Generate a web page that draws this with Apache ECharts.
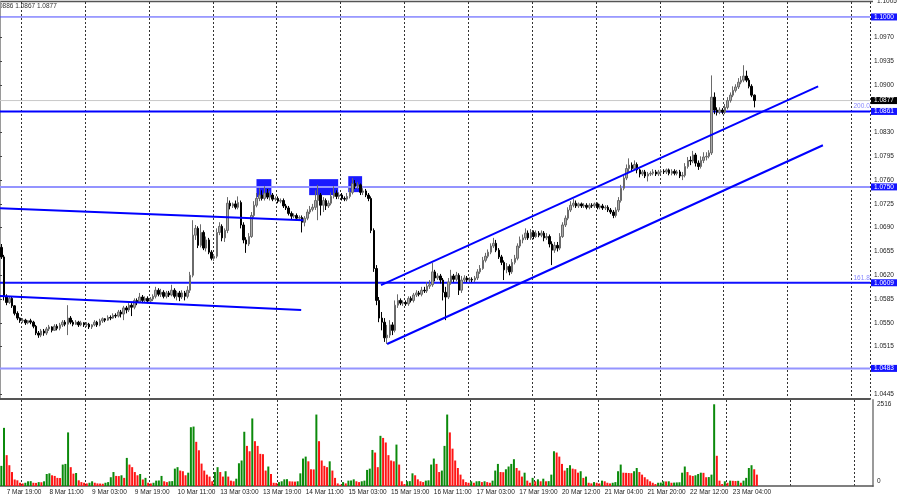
<!DOCTYPE html>
<html><head><meta charset="utf-8">
<script src="https://cdn.jsdelivr.net/npm/echarts@6.0.0/dist/echarts.min.js"></script>
<style>html,body{margin:0;padding:0;background:#fff}#c{width:900px;height:500px}</style>
</head><body><div id="c"></div>
<script>
// ---- DATA ----
// hourly candles: [open, close, low, high]
const candles = [
[1.0661,1.0647,1.0644,1.0666],[1.0647,1.0589,1.0583,1.0650],[1.0589,1.0580,1.0576,1.0592],[1.0580,1.0586,1.0578,1.0589],[1.0586,1.0575,1.0572,1.0588],
[1.0575,1.0564,1.0561,1.0576],[1.0564,1.0557,1.0554,1.0567],[1.0557,1.0553,1.0550,1.0558],[1.0553,1.0554,1.0550,1.0557],[1.0554,1.0550,1.0547,1.0556],
[1.0550,1.0553,1.0548,1.0554],[1.0553,1.0551,1.0548,1.0556],[1.0551,1.0545,1.0542,1.0553],[1.0545,1.0535,1.0532,1.0547],[1.0535,1.0532,1.0528,1.0538],
[1.0532,1.0538,1.0529,1.0541],[1.0538,1.0535,1.0531,1.0541],[1.0535,1.0541,1.0532,1.0544],[1.0541,1.0544,1.0538,1.0547],[1.0544,1.0539,1.0536,1.0545],
[1.0539,1.0545,1.0538,1.0548],[1.0545,1.0542,1.0539,1.0548],[1.0542,1.0547,1.0539,1.0550],[1.0547,1.0551,1.0544,1.0554],[1.0551,1.0548,1.0545,1.0554],
[1.0548,1.0557,1.0532,1.0576],[1.0557,1.0551,1.0548,1.0560],[1.0551,1.0548,1.0545,1.0554],[1.0548,1.0551,1.0547,1.0554],[1.0551,1.0547,1.0544,1.0553],
[1.0547,1.0550,1.0545,1.0553],[1.0550,1.0547,1.0544,1.0551],[1.0547,1.0548,1.0544,1.0551],[1.0548,1.0544,1.0541,1.0550],[1.0544,1.0547,1.0541,1.0548],
[1.0547,1.0551,1.0545,1.0554],[1.0551,1.0547,1.0544,1.0553],[1.0547,1.0553,1.0545,1.0556],[1.0553,1.0556,1.0550,1.0558],[1.0556,1.0554,1.0551,1.0557],
[1.0554,1.0558,1.0553,1.0561],[1.0558,1.0557,1.0554,1.0561],[1.0557,1.0561,1.0556,1.0564],[1.0561,1.0560,1.0557,1.0564],[1.0560,1.0566,1.0558,1.0569],
[1.0566,1.0563,1.0558,1.0569],[1.0563,1.0572,1.0554,1.0575],[1.0572,1.0569,1.0564,1.0575],[1.0569,1.0576,1.0566,1.0579],[1.0576,1.0573,1.0560,1.0579],
[1.0573,1.0583,1.0570,1.0586],[1.0583,1.0580,1.0576,1.0586],[1.0580,1.0588,1.0579,1.0594],[1.0588,1.0583,1.0579,1.0591],[1.0583,1.0586,1.0580,1.0589],
[1.0586,1.0582,1.0579,1.0589],[1.0582,1.0585,1.0579,1.0588],[1.0585,1.0589,1.0582,1.0592],[1.0589,1.0598,1.0586,1.0603],[1.0598,1.0592,1.0589,1.0601],
[1.0592,1.0595,1.0588,1.0600],[1.0595,1.0589,1.0586,1.0598],[1.0589,1.0594,1.0586,1.0597],[1.0594,1.0591,1.0588,1.0597],[1.0591,1.0598,1.0589,1.0606],
[1.0598,1.0589,1.0586,1.0601],[1.0589,1.0594,1.0583,1.0597],[1.0594,1.0588,1.0582,1.0597],[1.0588,1.0594,1.0585,1.0598],[1.0594,1.0589,1.0583,1.0597],
[1.0589,1.0598,1.0586,1.0604],[1.0598,1.0620,1.0594,1.0625],[1.0620,1.0679,1.0617,1.0701],[1.0679,1.0689,1.0672,1.0694],[1.0689,1.0664,1.0660,1.0692],
[1.0664,1.0683,1.0661,1.0695],[1.0683,1.0660,1.0657,1.0686],[1.0660,1.0672,1.0655,1.0677],[1.0672,1.0654,1.0651,1.0675],[1.0654,1.0645,1.0642,1.0657],
[1.0645,1.0648,1.0641,1.0651],[1.0648,1.0683,1.0645,1.0689],[1.0683,1.0692,1.0679,1.0698],[1.0692,1.0675,1.0670,1.0695],[1.0675,1.0686,1.0669,1.0689],
[1.0686,1.0726,1.0682,1.0735],[1.0726,1.0722,1.0717,1.0730],[1.0722,1.0725,1.0719,1.0727],[1.0725,1.0720,1.0717,1.0730],[1.0720,1.0727,1.0717,1.0736],
[1.0727,1.0694,1.0689,1.0730],[1.0694,1.0672,1.0667,1.0698],[1.0672,1.0666,1.0653,1.0676],[1.0666,1.0677,1.0663,1.0682],[1.0677,1.0708,1.0675,1.0713],
[1.0708,1.0723,1.0705,1.0729],[1.0723,1.0733,1.0720,1.0741],[1.0733,1.0738,1.0729,1.0748],[1.0738,1.0733,1.0730,1.0745],[1.0733,1.0741,1.0730,1.0751],
[1.0741,1.0735,1.0732,1.0747],[1.0735,1.0738,1.0730,1.0744],[1.0738,1.0732,1.0729,1.0741],[1.0732,1.0733,1.0729,1.0736],[1.0733,1.0729,1.0726,1.0736],
[1.0729,1.0730,1.0726,1.0733],[1.0730,1.0722,1.0719,1.0733],[1.0722,1.0719,1.0716,1.0725],[1.0719,1.0711,1.0708,1.0722],[1.0711,1.0707,1.0702,1.0714],
[1.0707,1.0708,1.0704,1.0711],[1.0708,1.0704,1.0701,1.0711],[1.0704,1.0705,1.0701,1.0708],[1.0705,1.0698,1.0683,1.0708],[1.0698,1.0704,1.0692,1.0707],
[1.0704,1.0713,1.0701,1.0717],[1.0713,1.0717,1.0710,1.0722],[1.0717,1.0720,1.0714,1.0725],[1.0720,1.0730,1.0716,1.0745],[1.0730,1.0738,1.0701,1.0753],
[1.0738,1.0723,1.0708,1.0741],[1.0723,1.0730,1.0713,1.0735],[1.0730,1.0722,1.0716,1.0733],[1.0722,1.0726,1.0719,1.0730],[1.0726,1.0736,1.0723,1.0742],
[1.0736,1.0741,1.0733,1.0751],[1.0741,1.0736,1.0732,1.0745],[1.0736,1.0738,1.0732,1.0742],[1.0738,1.0733,1.0730,1.0741],[1.0733,1.0732,1.0729,1.0736],
[1.0732,1.0736,1.0729,1.0741],[1.0736,1.0742,1.0733,1.0748],[1.0742,1.0755,1.0739,1.0763],[1.0755,1.0751,1.0747,1.0760],[1.0751,1.0753,1.0747,1.0757],
[1.0753,1.0742,1.0738,1.0755],[1.0742,1.0744,1.0738,1.0748],[1.0744,1.0738,1.0735,1.0747],[1.0738,1.0733,1.0729,1.0741],[1.0733,1.0686,1.0682,1.0736],
[1.0686,1.0630,1.0625,1.0689],[1.0630,1.0583,1.0576,1.0635],[1.0583,1.0557,1.0551,1.0588],[1.0557,1.0551,1.0539,1.0566],[1.0551,1.0528,1.0522,1.0557],
[1.0528,1.0532,1.0519,1.0547],[1.0532,1.0547,1.0528,1.0554],[1.0547,1.0539,1.0532,1.0551],[1.0539,1.0576,1.0536,1.0583],[1.0576,1.0583,1.0572,1.0592],
[1.0583,1.0579,1.0576,1.0586],[1.0579,1.0580,1.0575,1.0583],[1.0580,1.0578,1.0575,1.0583],[1.0578,1.0586,1.0575,1.0589],[1.0586,1.0583,1.0580,1.0589],
[1.0583,1.0591,1.0580,1.0594],[1.0591,1.0594,1.0588,1.0598],[1.0594,1.0592,1.0589,1.0597],[1.0592,1.0598,1.0589,1.0603],[1.0598,1.0597,1.0594,1.0603],
[1.0597,1.0604,1.0594,1.0610],[1.0604,1.0606,1.0600,1.0613],[1.0606,1.0625,1.0603,1.0638],[1.0625,1.0616,1.0611,1.0628],[1.0616,1.0619,1.0613,1.0623],
[1.0619,1.0613,1.0608,1.0622],[1.0613,1.0595,1.0583,1.0616],[1.0595,1.0588,1.0554,1.0603],[1.0588,1.0610,1.0585,1.0616],[1.0610,1.0619,1.0606,1.0628],
[1.0619,1.0614,1.0610,1.0622],[1.0614,1.0620,1.0611,1.0625],[1.0620,1.0598,1.0591,1.0623],[1.0598,1.0613,1.0594,1.0619],[1.0613,1.0616,1.0610,1.0620],
[1.0616,1.0613,1.0610,1.0619],[1.0613,1.0614,1.0610,1.0617],[1.0614,1.0613,1.0610,1.0617],[1.0613,1.0616,1.0610,1.0619],[1.0616,1.0625,1.0613,1.0629],
[1.0625,1.0630,1.0622,1.0635],[1.0630,1.0642,1.0628,1.0647],[1.0642,1.0648,1.0639,1.0653],[1.0648,1.0654,1.0645,1.0658],[1.0654,1.0663,1.0651,1.0667],
[1.0663,1.0667,1.0660,1.0675],[1.0667,1.0657,1.0654,1.0672],[1.0657,1.0647,1.0644,1.0660],[1.0647,1.0639,1.0635,1.0650],[1.0639,1.0628,1.0613,1.0642],
[1.0628,1.0633,1.0623,1.0638],[1.0633,1.0625,1.0620,1.0636],[1.0625,1.0639,1.0622,1.0644],[1.0639,1.0645,1.0636,1.0650],[1.0645,1.0663,1.0642,1.0667],
[1.0663,1.0672,1.0660,1.0677],[1.0672,1.0675,1.0667,1.0680],[1.0675,1.0682,1.0672,1.0689],[1.0682,1.0675,1.0672,1.0686],[1.0675,1.0683,1.0672,1.0688],
[1.0683,1.0677,1.0673,1.0686],[1.0677,1.0682,1.0675,1.0686],[1.0682,1.0679,1.0676,1.0685],[1.0679,1.0682,1.0676,1.0686],[1.0682,1.0675,1.0670,1.0685],
[1.0675,1.0677,1.0672,1.0682],[1.0677,1.0666,1.0661,1.0680],[1.0666,1.0657,1.0635,1.0670],[1.0657,1.0664,1.0653,1.0669],[1.0664,1.0660,1.0655,1.0669],
[1.0660,1.0677,1.0657,1.0682],[1.0677,1.0694,1.0675,1.0698],[1.0694,1.0704,1.0691,1.0708],[1.0704,1.0716,1.0701,1.0720],[1.0716,1.0723,1.0713,1.0729],
[1.0723,1.0726,1.0720,1.0732],[1.0726,1.0722,1.0719,1.0730],[1.0722,1.0725,1.0719,1.0727],[1.0725,1.0722,1.0719,1.0727],[1.0722,1.0723,1.0719,1.0726],
[1.0723,1.0720,1.0717,1.0726],[1.0720,1.0723,1.0717,1.0726],[1.0723,1.0722,1.0719,1.0726],[1.0722,1.0725,1.0719,1.0727],[1.0725,1.0720,1.0717,1.0727],
[1.0720,1.0722,1.0717,1.0725],[1.0722,1.0719,1.0716,1.0725],[1.0719,1.0720,1.0716,1.0723],[1.0720,1.0716,1.0713,1.0723],[1.0716,1.0713,1.0710,1.0719],
[1.0713,1.0708,1.0704,1.0716],[1.0708,1.0716,1.0705,1.0720],[1.0716,1.0730,1.0713,1.0735],[1.0730,1.0748,1.0727,1.0753],[1.0748,1.0763,1.0745,1.0767],
[1.0763,1.0777,1.0760,1.0783],[1.0777,1.0782,1.0772,1.0792],[1.0782,1.0777,1.0773,1.0786],[1.0777,1.0783,1.0775,1.0789],[1.0783,1.0775,1.0770,1.0786],
[1.0775,1.0769,1.0764,1.0777],[1.0769,1.0772,1.0766,1.0775],[1.0772,1.0766,1.0763,1.0775],[1.0766,1.0769,1.0758,1.0772],[1.0769,1.0770,1.0766,1.0773],
[1.0770,1.0772,1.0767,1.0776],[1.0772,1.0769,1.0766,1.0775],[1.0769,1.0772,1.0766,1.0775],[1.0772,1.0773,1.0769,1.0776],[1.0773,1.0772,1.0769,1.0776],
[1.0772,1.0775,1.0769,1.0777],[1.0775,1.0770,1.0767,1.0777],[1.0770,1.0773,1.0767,1.0776],[1.0773,1.0770,1.0767,1.0776],[1.0770,1.0772,1.0767,1.0775],
[1.0772,1.0766,1.0763,1.0775],[1.0766,1.0767,1.0760,1.0772],[1.0767,1.0780,1.0764,1.0785],[1.0780,1.0789,1.0777,1.0794],[1.0789,1.0788,1.0782,1.0795],
[1.0788,1.0797,1.0785,1.0803],[1.0797,1.0785,1.0780,1.0800],[1.0785,1.0780,1.0775,1.0789],[1.0780,1.0789,1.0777,1.0795],[1.0789,1.0794,1.0785,1.0801],
[1.0794,1.0795,1.0789,1.0801],[1.0795,1.0800,1.0792,1.0804],[1.0800,1.0882,1.0797,1.0914],[1.0882,1.0863,1.0857,1.0889],[1.0863,1.0860,1.0855,1.0867],
[1.0860,1.0863,1.0857,1.0867],[1.0863,1.0860,1.0857,1.0866],[1.0860,1.0867,1.0857,1.0872],[1.0867,1.0877,1.0864,1.0882],[1.0877,1.0885,1.0874,1.0889],
[1.0885,1.0892,1.0882,1.0898],[1.0892,1.0897,1.0889,1.0901],[1.0897,1.0904,1.0894,1.0910],[1.0904,1.0907,1.0901,1.0913],[1.0907,1.0913,1.0904,1.0929],
[1.0913,1.0907,1.0904,1.0921],[1.0907,1.0898,1.0895,1.0910],[1.0898,1.0885,1.0882,1.0901],[1.0885,1.0877,1.0867,1.0886]
];
const volumes = [
620,1790,950,640,430,200,175,100,80,100,
145,150,100,95,120,115,145,370,390,330,
310,250,245,660,680,1650,580,380,400,175,
120,100,80,100,145,100,80,75,70,100,
120,270,430,310,305,330,250,865,660,580,
430,330,370,200,250,100,80,100,165,170,
310,145,120,145,150,535,580,475,455,330,
410,1810,1830,1360,1100,690,475,350,290,145,
430,580,430,290,455,290,165,145,225,700,
785,1670,1235,1070,2080,1380,1235,990,980,475,
600,370,100,95,120,145,205,210,145,140,
135,145,390,845,905,760,515,510,2200,1380,
785,620,580,760,475,250,80,40,120,80,
165,170,205,145,120,145,165,495,535,1110,
1030,580,1545,1480,1340,950,785,760,1275,660,
145,60,145,150,390,330,205,145,120,165,
175,660,845,680,430,475,1235,2200,1650,1150,
785,555,350,205,120,100,145,100,145,150,
120,145,120,100,165,475,680,430,425,515,
600,680,825,555,475,290,410,165,100,250,
145,205,145,225,145,150,350,1070,1030,905,
680,475,555,640,535,515,410,455,250,290,
100,80,120,100,80,165,145,100,80,100,
120,455,660,410,405,400,395,455,555,430,
350,270,205,145,100,60,100,105,145,140,
145,100,105,110,115,410,600,430,330,310,
330,370,410,405,270,275,350,2516,930,165,
60,145,100,165,160,155,160,100,165,250,
555,640,515,350
];
const timeLabels = ["7 Mar 19:00","8 Mar 11:00","9 Mar 03:00","9 Mar 19:00","10 Mar 11:00","13 Mar 03:00","13 Mar 19:00","14 Mar 11:00","15 Mar 03:00","15 Mar 19:00","16 Mar 11:00","17 Mar 03:00","17 Mar 19:00","20 Mar 12:00","21 Mar 04:00","21 Mar 20:00","22 Mar 12:00","23 Mar 04:00"];
const firstLabelBar = 2, labelEvery = 16;
const firstGridBar = 8, gridEvery = 24;
const totalSlots = 327;
const priceTicks = [1.0970,1.0935,1.0900,1.0830,1.0795,1.0760,1.0725,1.0690,1.0655,1.0620,1.0585,1.0550,1.0515,1.0445];
const levelPrices = [1.1000,1.0861,1.0750,1.0609,1.0483];
const lastPrice = 1.0877;
const fiboLevels = [1.0861,1.0609];
const fiboTexts = ["200.0","161.8"];
const channelUpper = [[143.2,1.06056],[307.5,1.08980]];
const channelLower = [[145.5,1.05189],[309.3,1.08113]];
const oldLineA = [[0,1.07187],[114.0,1.07011]];
const oldLineB = [[0,1.05894],[113.2,1.05689]];
const boxes = [
  [[96.4,1.07614],[102.0,1.07349]],
  [[116.2,1.07614],[127.1,1.07379]],
  [[130.9,1.07658],[136.1,1.07423]]
];
const headerText = "0886 1.0867 1.0877";
const volumeTopLabel = 2516;

// ---- STYLES ----
const FONT = 'Liberation Sans';
const FS = 6.5;
const levelStyles = [
  {color:'#4848ff', width:1},
  {color:'#0000ff', width:2},
  {color:'#9494ff', width:2},
  {color:'#1010ff', width:2},
  {color:'#9494ff', width:2}
];
const gridDash = {color:'#333', type:[2,2], width:1};

const cats = [];
for (let i = 0; i < totalSlots; i++) cats.push(String(i));
const isGridBar = (i) => i >= firstGridBar && (i - firstGridBar) % gridEvery === 0;
const isLabelBar = (i) => i >= firstLabelBar && (i - firstLabelBar) % labelEvery === 0 && (i - firstLabelBar) / labelEvery < timeLabels.length;

const volData = volumes.map((v, i) => ({
  value: v,
  itemStyle: {color: (i === 0 || v > volumes[i - 1]) ? '#0b8a0b' : '#ff1414'}
}));

const near = (a, b) => Math.abs(a - b) < 1e-9;

const hLine = (p, st, z) => ({
  type: 'line', xAxisIndex: 2, yAxisIndex: 0, data: [[0, p], [totalSlots, p]],
  showSymbol: false, symbol: 'none', silent: true, z: z, animation: false,
  lineStyle: {color: st.color, width: st.width}
});
const trend = (data) => ({
  type: 'line', xAxisIndex: 2, yAxisIndex: 0, data: data, showSymbol: false, symbol: 'none',
  lineStyle: {color: '#0000ff', width: 2}, silent: true, z: 5, animation: false
});

const levelSeries = levelPrices.map((p, k) => hLine(p, levelStyles[k], 2));
levelSeries.push(hLine(lastPrice, {color: '#c8c8c8', width: 1}, 2));

const fiboSeries = {
  type: 'scatter', xAxisIndex: 2, yAxisIndex: 0, silent: true, z: 6, animation: false,
  symbol: 'rect', symbolSize: 1, itemStyle: {color: 'rgba(0,0,0,0)'},
  data: fiboLevels.map((p, k) => ({value: [totalSlots, p], name: fiboTexts[k]})),
  label: {show: true, position: [-16, -8], formatter: (d) => d.name, color: '#6a6aff', fontSize: FS, fontFamily: FONT, align: 'left', verticalAlign: 'top'}
};

const chart = echarts.init(document.getElementById('c'), null, {renderer: 'canvas'});
chart.setOption({
  animation: false,
  backgroundColor: '#fff',
  textStyle: {fontFamily: FONT},
  grid: [
    {left: 0, top: 2, width: 873, height: 397},
    {left: 0, top: 400, width: 873, height: 86}
  ],
  xAxis: [
    {type: 'category', gridIndex: 0, data: cats, boundaryGap: true,
     axisLine: {show: true, lineStyle: {color: '#555', width: 2}},
     axisTick: {show: false}, axisLabel: {show: false},
     splitLine: {show: true, interval: (i) => isGridBar(i), lineStyle: gridDash}},
    {type: 'category', gridIndex: 1, data: cats, boundaryGap: true,
     axisLine: {show: true, lineStyle: {color: '#555', width: 1.5}},
     axisTick: {show: false},
     axisLabel: {show: true, interval: (i) => isLabelBar(i), align: 'left', margin: 3,
       fontSize: FS, color: '#222', fontFamily: FONT,
       formatter: (v) => { const n = Number(v); return isLabelBar(n) ? timeLabels[(n - firstLabelBar) / labelEvery] : ''; }},
     splitLine: {show: true, interval: (i) => isGridBar(i), lineStyle: gridDash}},
    {type: 'value', gridIndex: 0, min: 0, max: totalSlots, show: false}
  ],
  yAxis: [
    {type: 'value', gridIndex: 0, position: 'right', min: 1.0438, max: 1.1022, scale: true,
     axisLine: {show: true, lineStyle: {color: '#9a9a9a', width: 2}},
     axisTick: {show: true, length: 2, customValues: priceTicks, lineStyle: {color: '#444'}},
     splitLine: {show: false},
     axisLabel: {show: true, margin: 1, customValues: priceTicks.concat(levelPrices, [lastPrice]),
       formatter: (v) => {
         const t = Number(v).toFixed(4);
         if (near(v, lastPrice)) return '{last|' + t + '}';
         if (levelPrices.some((p) => near(p, v))) return '{lvl|' + t + '}';
         return '{n|' + t + '}';
       },
       rich: {
         n: {color: '#222', fontSize: FS, fontFamily: FONT, padding: [0, 0, 0, 3]},
         lvl: {color: '#fff', backgroundColor: '#1414ff', fontSize: FS, fontFamily: FONT, width: 22, height: 7, lineHeight: 7, padding: [0, 1, 0, 3]},
         last: {color: '#fff', backgroundColor: '#000', fontSize: FS, fontFamily: FONT, width: 22, height: 7, lineHeight: 7, padding: [0, 1, 0, 3]}
       }}},
    {type: 'value', gridIndex: 1, position: 'right', min: 0, max: 2648,
     axisLine: {show: true, lineStyle: {color: '#9a9a9a', width: 2}},
     axisTick: {show: false}, splitLine: {show: false},
     axisLabel: {show: true, margin: 1, customValues: [0, volumeTopLabel],
       formatter: (v) => v === 0 ? '{z|0}' : '{n|' + v + '}',
       rich: {
         n: {color: '#222', fontSize: FS, fontFamily: FONT, padding: [0, 0, 0, 3]},
         z: {color: '#222', fontSize: FS, fontFamily: FONT, padding: [0, 0, 9, 3]}
       }}}
  ],
  series: [
    {type: 'line', xAxisIndex: 2, yAxisIndex: 0, data: [], silent: true, z: 1,
     markArea: {silent: true, itemStyle: {color: '#1a1aff', opacity: 1},
       data: boxes.map((b) => [{coord: b[0]}, {coord: b[1]}])}},
    ...levelSeries,
    {type: 'candlestick', xAxisIndex: 0, yAxisIndex: 0, data: candles, barWidth: 2, z: 3,
     itemStyle: {color: '#a9a9a9', color0: '#000', borderColor: '#6a6a6a', borderColor0: '#000', borderWidth: 1}},
    trend(channelUpper), trend(channelLower), trend(oldLineA), trend(oldLineB),
    fiboSeries,
    {type: 'bar', xAxisIndex: 1, yAxisIndex: 1, data: volData, barWidth: 2, silent: true}
  ],
  graphic: [
    {type: 'line', shape: {x1: 0, y1: 1.5, x2: 873, y2: 1.5}, style: {stroke: '#555', lineWidth: 1.5}, silent: true},
    {type: 'text', left: -1, top: 3, style: {text: headerText, fontSize: FS, fontFamily: FONT, fill: '#333'}, silent: true},
    {type: 'text', left: 877, top: -2, style: {text: '1.1005', fontSize: FS, fontFamily: FONT, fill: '#222'}, silent: true, z: -1}
  ]
});
</script>
</body></html>
